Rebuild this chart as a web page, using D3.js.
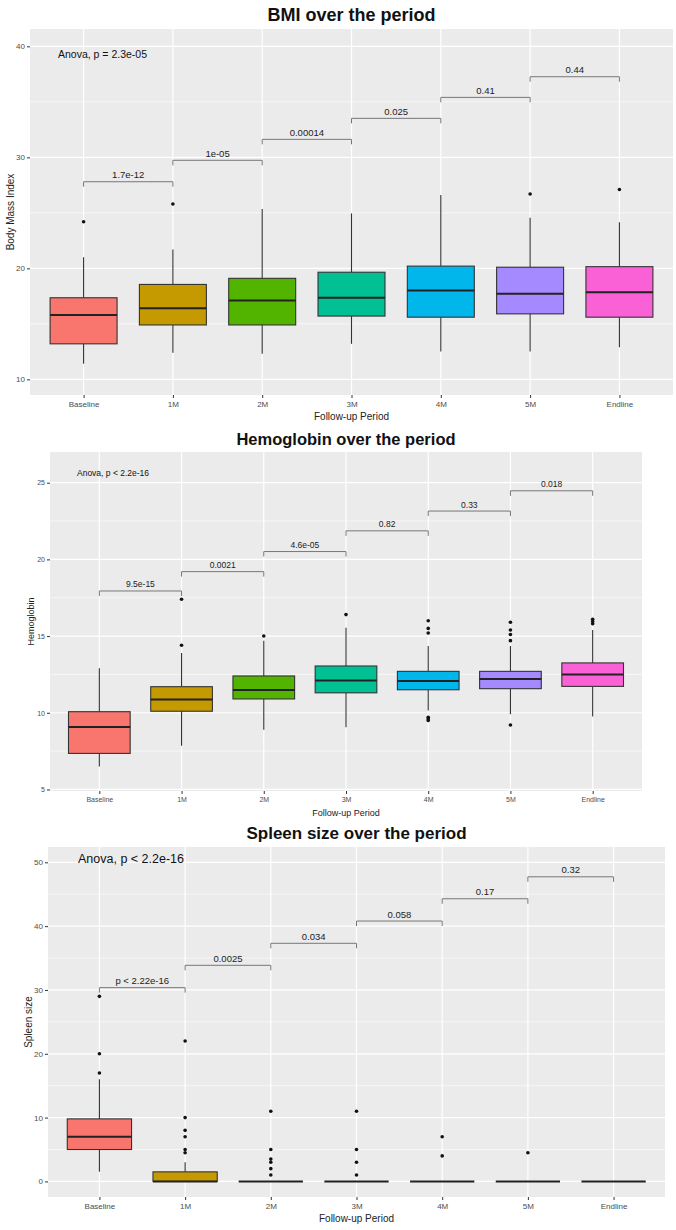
<!DOCTYPE html>
<html lang="en">
<head>
  <meta charset="UTF-8">
  <title>Follow-up boxplots</title>
  <script src="https://cdn.jsdelivr.net/npm/d3@7"></script>
</head>
<style>
body { margin: 0; background: white; }
text { font-family: "Liberation Sans", Arial, sans-serif; }
</style>
<body>
<svg width="676" height="1230"></svg>
<script>
var periods = ["Baseline", "1M", "2M", "3M", "4M", "5M", "Endline"]
var fills = ["#F8766D", "#C49A00", "#53B400", "#00C094", "#00B6EB", "#A58AFF", "#FB61D7"]

// BMI
var bmiLow = [11.4, 12.4, 12.3, 13.2, 12.5, 12.5, 12.9]
var bmiQ1 = [13.2, 14.9, 14.9, 15.7, 15.6, 15.9, 15.6]
var bmiMed = [15.8, 16.4, 17.1, 17.35, 18.0, 17.7, 17.85]
var bmiQ3 = [17.35, 18.55, 19.1, 19.65, 20.2, 20.1, 20.15]
var bmiHigh = [21.0, 21.7, 25.35, 24.95, 26.6, 24.55, 24.15]
var bmiOut = [[24.2], [25.8], [], [], [], [26.7], [27.1]]
var bmiPairY = [27.8, 29.73, 31.62, 33.51, 35.4, 37.26]
var bmiPairP = ["1.7e-12", "1e-05", "0.00014", "0.025", "0.41", "0.44"]

// Hemoglobin
var hbLow = [6.5, 7.85, 8.9, 9.05, 10.15, 9.9, 9.75]
var hbQ1 = [7.35, 10.1, 10.9, 11.3, 11.5, 11.57, 11.72]
var hbMed = [9.07, 10.87, 11.48, 12.1, 12.07, 12.2, 12.5]
var hbQ3 = [10.07, 11.7, 12.4, 13.05, 12.7, 12.7, 13.25]
var hbHigh = [12.9, 13.9, 14.7, 15.55, 14.35, 14.35, 15.4]
var hbOut = [[], [17.4, 14.4], [15.0], [16.4], [16.0, 15.5, 15.2, 9.7, 9.6, 9.5], [15.9, 15.4, 15.1, 14.7, 9.2], [16.1, 15.95, 15.8]]
var hbPairY = [17.94, 19.2, 20.51, 21.86, 23.15, 24.47]
var hbPairP = ["9.5e-15", "0.0021", "4.6e-05", "0.82", "0.33", "0.018"]

// Spleen size
var spLow = [1.5, 0, 0, 0, 0, 0, 0]
var spQ1 = [5.0, 0, 0, 0, 0, 0, 0]
var spMed = [7.0, 0, 0, 0, 0, 0, 0]
var spQ3 = [9.8, 1.5, 0, 0, 0, 0, 0]
var spHigh = [16, 3, 0, 0, 0, 0, 0]
var spOut = [[29, 20, 17], [22, 10, 8, 7, 5, 4.5], [11, 5, 3.5, 3, 2, 1], [11, 5, 3, 1], [7, 4], [4.5], []]
var spPairY = [30.36, 33.86, 37.31, 40.8, 44.29, 47.73]
var spPairP = ["p < 2.22e-16", "0.0025", "0.034", "0.058", "0.17", "0.32"]

var panels = [
  { title: "BMI over the period", titleSize: 18, titleY: 21, ylab: "Body Mass Index", ylabX: 10,
    anova: "Anova, p = 2.3e-05", anovaSize: 10.5, anovaX: 58, anovaY: 58,
    x0: 30, x1: 673, y0: 29, y1: 395, dom: [8.59, 41.56], ticks: [10, 20, 30, 40], minor: [15, 25, 35],
    tickSize: 8, labSize: 9.5, axisTitleSize: 10,
    low: bmiLow, q1: bmiQ1, med: bmiMed, q3: bmiQ3, high: bmiHigh, out: bmiOut, pairY: bmiPairY, pairP: bmiPairP },
  { title: "Hemoglobin over the period", titleSize: 16.5, titleY: 445, ylab: "Hemoglobin", ylabX: 31,
    anova: "Anova, p < 2.2e-16", anovaSize: 8.5, anovaX: 77, anovaY: 476,
    x0: 50, x1: 642, y0: 452, y1: 791, dom: [4.9, 27.0], ticks: [5, 10, 15, 20, 25], minor: [7.5, 12.5, 17.5, 22.5],
    tickSize: 7, labSize: 8.5, axisTitleSize: 9,
    low: hbLow, q1: hbQ1, med: hbMed, q3: hbQ3, high: hbHigh, out: hbOut, pairY: hbPairY, pairP: hbPairP },
  { title: "Spleen size over the period", titleSize: 17, titleY: 839, ylab: "Spleen size", ylabX: 28,
    anova: "Anova, p < 2.2e-16", anovaSize: 12.5, anovaX: 78, anovaY: 863,
    x0: 48, x1: 665, y0: 847, y1: 1197, dom: [-2.44, 52.4], ticks: [0, 10, 20, 30, 40, 50], minor: [5, 15, 25, 35, 45],
    tickSize: 8, labSize: 9.5, axisTitleSize: 10,
    low: spLow, q1: spQ1, med: spMed, q3: spQ3, high: spHigh, out: spOut, pairY: spPairY, pairP: spPairP }
]

var svg = d3.select("svg")

panels.forEach(function(p) {
  // ggplot discrete expansion: 0.6 units each side
  var x = d3.scalePoint().domain(periods).range([p.x0, p.x1]).padding(0.6)
  var step = x.step()
  var y = d3.scaleLinear().domain(p.dom).range([p.y1, p.y0])
  var g = svg.append("g")

  g.append("rect").attr("x", p.x0).attr("y", p.y0)
    .attr("width", p.x1 - p.x0).attr("height", p.y1 - p.y0).attr("fill", "#EBEBEB")

  g.selectAll(".minor").data(p.minor).enter().append("line")
    .attr("x1", p.x0).attr("x2", p.x1).attr("y1", d => y(d)).attr("y2", d => y(d))
    .attr("stroke", "white").attr("stroke-width", 0.6)
  g.selectAll(".major").data(p.ticks).enter().append("line")
    .attr("x1", p.x0).attr("x2", p.x1).attr("y1", d => y(d)).attr("y2", d => y(d))
    .attr("stroke", "white").attr("stroke-width", 1.2)
  g.selectAll(".vmajor").data(periods).enter().append("line")
    .attr("x1", d => x(d)).attr("x2", d => x(d)).attr("y1", p.y0).attr("y2", p.y1)
    .attr("stroke", "white").attr("stroke-width", 1.2)

  // axes
  var yAxis = d3.axisLeft(y).tickValues(p.ticks).tickSize(3).tickPadding(2)
  var ya = g.append("g").attr("transform", "translate(" + p.x0 + ",0)").call(yAxis)
  var xAxis = d3.axisBottom(x).tickSize(3).tickPadding(3)
  var xa = g.append("g").attr("transform", "translate(0," + p.y1 + ")").call(xAxis)
  ;[ya, xa].forEach(function(a) {
    a.select(".domain").remove()
    a.selectAll(".tick line").attr("stroke", "#333333")
    a.selectAll(".tick text").attr("fill", "#4D4D4D").style("font-size", p.tickSize + "px")
      .style("font-family", '"Liberation Sans", Arial, sans-serif')
  })

  // boxes
  var bw = step * 0.75
  var box = g.selectAll(".box").data(periods).enter().append("g")
  box.append("line")
    .attr("x1", d => x(d)).attr("x2", d => x(d))
    .attr("y1", (d, i) => y(p.q3[i])).attr("y2", (d, i) => y(p.high[i]))
    .attr("stroke", "#333333").attr("stroke-width", 1.1)
  box.append("line")
    .attr("x1", d => x(d)).attr("x2", d => x(d))
    .attr("y1", (d, i) => y(p.q1[i])).attr("y2", (d, i) => y(p.low[i]))
    .attr("stroke", "#333333").attr("stroke-width", 1.1)
  box.append("rect")
    .attr("x", d => x(d) - bw / 2).attr("width", bw)
    .attr("y", (d, i) => y(p.q3[i])).attr("height", (d, i) => y(p.q1[i]) - y(p.q3[i]))
    .attr("fill", (d, i) => fills[i]).attr("stroke", "#333333").attr("stroke-width", 1.1)
  box.append("line")
    .attr("x1", d => x(d) - bw / 2).attr("x2", d => x(d) + bw / 2)
    .attr("y1", (d, i) => y(p.med[i])).attr("y2", (d, i) => y(p.med[i]))
    .attr("stroke", "#222222").attr("stroke-width", 2)
  box.each(function(d, i) {
    d3.select(this).selectAll("circle").data(p.out[i]).enter().append("circle")
      .attr("cx", x(d)).attr("cy", v => y(v)).attr("r", 1.8).attr("fill", "#111111")
  })

  // pairwise brackets
  var pairs = periods.slice(0, -1).map((d, i) => [d, periods[i + 1], p.pairY[i], p.pairP[i]])
  var br = g.selectAll(".bracket").data(pairs).enter().append("g")
  br.append("path")
    .attr("d", d => "M" + x(d[0]) + "," + (y(d[2]) + 5) + "V" + y(d[2]) + "H" + x(d[1]) + "V" + (y(d[2]) + 5))
    .attr("fill", "none").attr("stroke", "#777777").attr("stroke-width", 1)
  br.append("text")
    .attr("x", d => (x(d[0]) + x(d[1])) / 2).attr("y", d => y(d[2]) - 3.5)
    .attr("text-anchor", "middle").style("font-size", p.labSize + "px").attr("fill", "#222222")
    .text(d => d[3])

  g.append("text").attr("x", p.anovaX).attr("y", p.anovaY)
    .style("font-size", p.anovaSize + "px").attr("fill", "#111111").text(p.anova)

  g.append("text").attr("x", (p.x0 + p.x1) / 2).attr("y", p.titleY)
    .attr("text-anchor", "middle").style("font-size", p.titleSize + "px").style("font-weight", "bold")
    .attr("fill", "#111111").text(p.title)

  g.append("text").attr("x", (p.x0 + p.x1) / 2).attr("y", p.y1 + 25)
    .attr("text-anchor", "middle").style("font-size", p.axisTitleSize + "px").attr("fill", "#222222")
    .text("Follow-up Period")

  g.append("text")
    .attr("transform", "translate(" + p.ylabX + "," + ((p.y0 + p.y1) / 2) + ") rotate(-90)")
    .attr("text-anchor", "middle").attr("dy", "0.35em")
    .style("font-size", p.axisTitleSize + "px").attr("fill", "#222222").text(p.ylab)
})
</script>
</body>
</html>
